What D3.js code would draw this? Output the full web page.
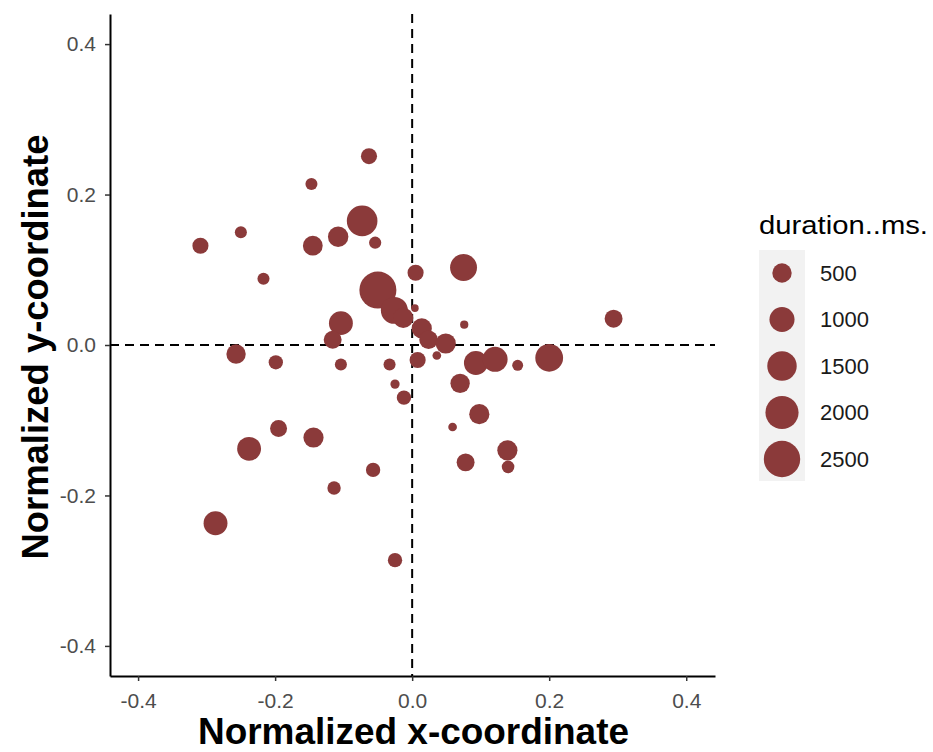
<!DOCTYPE html>
<html>
<head>
<meta charset="utf-8">
<script src="https://cdn.jsdelivr.net/npm/d3@7"></script>
<style>
  body { margin: 0; background: #fff; }
  text { font-family: "Liberation Sans", Arial, sans-serif; }
</style>
</head>
<body>
<svg id="chart" width="933" height="752"></svg>
<script>
// normalized coordinates and durations
const xs = [-0.063, -0.147, -0.073, -0.250, -0.309, -0.145, -0.108, -0.054, -0.217, 0.005,
            0.075, -0.050, -0.026, -0.013, 0.004, 0.014, 0.024, 0.049, 0.076, 0.294,
            0.008, 0.036, 0.093, 0.121, 0.154, 0.200, 0.070, 0.098, 0.059, -0.012,
            0.139, 0.140, 0.078, -0.025, -0.238, -0.195, -0.144, -0.057, -0.114, -0.287,
            -0.025, -0.033, -0.104, -0.199, -0.257, -0.104, -0.116]
const ys = [0.251, 0.214, 0.165, 0.150, 0.132, 0.132, 0.144, 0.136, 0.088, 0.096,
            0.103, 0.073, 0.046, 0.036, 0.049, 0.022, 0.007, 0.002, 0.027, 0.035,
            -0.020, -0.014, -0.024, -0.019, -0.027, -0.017, -0.051, -0.092, -0.109, -0.070,
            -0.140, -0.162, -0.156, -0.286, -0.138, -0.111, -0.123, -0.166, -0.190, -0.237,
            -0.052, -0.026, -0.026, -0.023, -0.012, 0.029, 0.007]
const durations = [290, 110, 1650, 110, 290, 530, 580, 115, 110, 290,
                   1200, 2600, 1200, 560, 10, 560, 450, 560, 18, 400,
                   290, 25, 880, 1000, 75, 1300, 500, 560, 25, 200,
                   560, 130, 400, 200, 880, 340, 560, 200, 160, 880,
                   35, 110, 110, 200, 500, 880, 400]
const legendValues = [500, 1000, 1500, 2000, 2500]
const tickValues = [-0.4, -0.2, 0.0, 0.2, 0.4]

const svg = d3.select("#chart")
const panel = {left: 110, right: 715, top: 14, bottom: 676}
const pointColor = "#8B3A3A"

const x = d3.scaleLinear().domain([-0.441, 0.442]).range([panel.left, panel.right])
const y = d3.scaleLinear().domain([-0.44, 0.44]).range([panel.bottom, panel.top])
const r = d3.scaleSqrt().domain([0, 2500]).range([2.8, 18.2])

// reference lines at zero
svg.append("line")
  .attr("x1", x(0)).attr("x2", x(0))
  .attr("y1", panel.top).attr("y2", panel.bottom)
  .attr("stroke", "#000").attr("stroke-width", 2).attr("stroke-dasharray", "9,6")
svg.append("line")
  .attr("x1", panel.left).attr("x2", panel.right)
  .attr("y1", y(0)).attr("y2", y(0))
  .attr("stroke", "#000").attr("stroke-width", 2).attr("stroke-dasharray", "9,6")

// points
svg.append("g")
  .selectAll("circle")
  .data(xs.map((d, i) => ({x: d, y: ys[i], dur: durations[i]})))
  .enter()
  .append("circle")
  .attr("cx", d => x(d.x))
  .attr("cy", d => y(d.y))
  .attr("r", d => r(d.dur))
  .attr("fill", pointColor)

// axes
const fmt = d => d.toFixed(1)
const xAxis = svg.append("g")
  .attr("transform", `translate(0,${panel.bottom})`)
  .call(d3.axisBottom(x).tickValues(tickValues).tickFormat(fmt).tickSize(5).tickSizeOuter(0))
const yAxis = svg.append("g")
  .attr("transform", `translate(${panel.left},0)`)
  .call(d3.axisLeft(y).tickValues(tickValues).tickFormat(fmt).tickSize(5).tickSizeOuter(0))

for (const ax of [xAxis, yAxis]) {
  ax.select(".domain").attr("stroke", "#000").attr("stroke-width", 2)
  ax.selectAll(".tick line").attr("stroke", "#333").attr("stroke-width", 1.5)
  ax.selectAll(".tick text").attr("fill", "#4d4d4d").attr("font-size", 21)
    .attr("font-family", "Liberation Sans, Arial, sans-serif")
}
xAxis.selectAll(".tick text").attr("dy", "0.71em").attr("y", 17)
yAxis.selectAll(".tick text").attr("x", -14)

// axis titles
svg.append("text")
  .attr("x", (panel.left + panel.right) / 2 + 1)
  .attr("y", 744)
  .attr("text-anchor", "middle")
  .attr("font-size", 36).attr("font-weight", "bold")
  .attr("textLength", 431).attr("lengthAdjust", "spacingAndGlyphs")
  .text("Normalized x-coordinate")
svg.append("text")
  .attr("transform", `translate(48,${(panel.top + panel.bottom) / 2 + 2}) rotate(-90)`)
  .attr("text-anchor", "middle")
  .attr("font-size", 37).attr("font-weight", "bold")
  .attr("textLength", 425).attr("lengthAdjust", "spacingAndGlyphs")
  .text("Normalized y-coordinate")

// size legend
const legend = svg.append("g").attr("transform", "translate(759,0)")
legend.append("text")
  .attr("x", 0).attr("y", 234)
  .attr("font-size", 26).attr("fill", "#000")
  .attr("textLength", 169).attr("lengthAdjust", "spacingAndGlyphs")
  .text("duration..ms.")
legend.append("rect")
  .attr("x", 0).attr("y", 250)
  .attr("width", 46).attr("height", 231)
  .attr("fill", "#f2f2f2")
const keyY = d3.scalePoint().domain(legendValues).range([273, 459])
legend.selectAll("circle.key")
  .data(legendValues)
  .enter()
  .append("circle")
  .attr("class", "key")
  .attr("cx", 23)
  .attr("cy", d => keyY(d))
  .attr("r", d => r(d))
  .attr("fill", pointColor)
legend.selectAll("text.lab")
  .data(legendValues)
  .enter()
  .append("text")
  .attr("class", "lab")
  .attr("x", 61)
  .attr("y", d => keyY(d))
  .attr("dy", "0.36em")
  .attr("font-size", 22).attr("fill", "#1a1a1a")
  .text(d => d)
</script>
</body>
</html>
